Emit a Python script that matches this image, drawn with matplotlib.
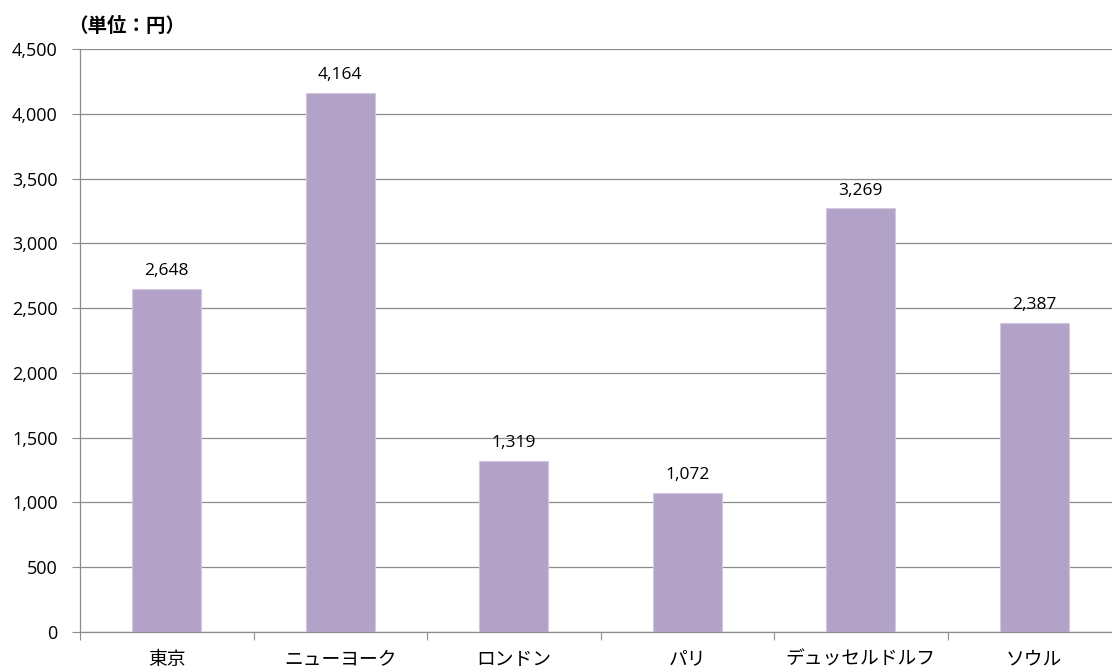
import matplotlib
matplotlib.use("Agg")
import matplotlib.pyplot as plt
from matplotlib.ticker import FuncFormatter, MultipleLocator

plt.rcParams["font.family"] = ["Noto Sans CJK JP", "DejaVu Sans"]

cities = ["東京", "ニューヨーク", "ロンドン", "パリ", "デュッセルドルフ", "ソウル"]
prices = [2648, 4164, 1319, 1072, 3269, 2387]

BAR_COLOR = "#b3a2c7"
GRID_COLOR = "#8c8c8c"
NUM_FONT = ["Open Sans", "DejaVu Sans"]

fig = plt.figure(figsize=(11.12, 6.70), dpi=100)
ax = fig.add_axes([80 / 1112, 38 / 670, 1041 / 1112, 583 / 670])

x = list(range(len(cities)))
ax.bar(x, prices, width=0.4, color=BAR_COLOR, edgecolor="#d2c8e0", linewidth=0.8, zorder=3)

for xi, v in zip(x, prices):
    ax.annotate(f"{v:,}", (xi, v), xytext=(0, 7), textcoords="offset points",
                ha="center", va="bottom", fontsize=12.5, family=NUM_FONT)

ax.set_xlim(-0.5, len(cities) - 0.5)
ax.set_ylim(0, 4500)
ax.yaxis.set_major_locator(MultipleLocator(500))
ax.yaxis.set_major_formatter(FuncFormatter(lambda v, _: f"{int(v):,}"))
ax.grid(axis="y", color=GRID_COLOR, linewidth=0.9, zorder=0)

# category boundary ticks as major, names as minor
ax.set_xticks([i + 0.5 for i in range(-1, len(cities))])
ax.set_xticklabels([])
ax.set_xticks(x, minor=True)
ax.set_xticklabels(cities, minor=True, fontsize=13.5)
ax.tick_params(axis="x", which="major", length=6, color=GRID_COLOR, direction="out")
ax.tick_params(axis="x", which="minor", length=0, pad=12)
ax.tick_params(axis="y", length=6, color=GRID_COLOR, pad=10, labelsize=13)
for lab in ax.get_yticklabels():
    lab.set_family(NUM_FONT)

for side in ("top", "right"):
    ax.spines[side].set_visible(False)
for side in ("left", "bottom"):
    ax.spines[side].set_color(GRID_COLOR)
    ax.spines[side].set_linewidth(0.9)

fig.text(68 / 1112, 1 - 26 / 670, "（単位：円）", fontsize=14, fontweight="bold",
         ha="left", va="center")

fig.savefig("out.png", dpi=100)
